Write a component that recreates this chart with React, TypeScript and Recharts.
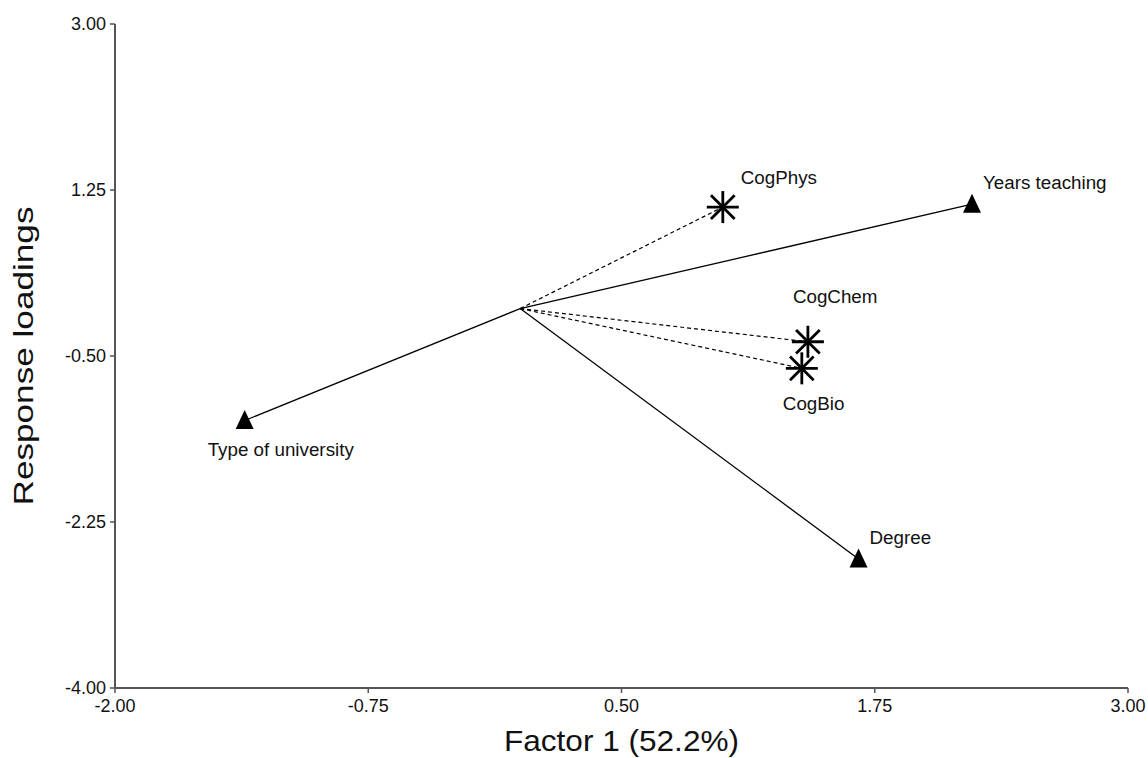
import React from 'react';
import { ScatterChart, Scatter, XAxis, YAxis } from 'recharts';

// Explanatory variables (solid vectors, triangles)
const explanatoryNames = ['Years teaching', 'Type of university', 'Degree'];
const explanatoryX = [2.23, -1.36, 1.67];
const explanatoryY = [1.1, -1.18, -2.64];

// Response variables (dashed vectors, asterisks)
const responseNames = ['CogPhys', 'CogChem', 'CogBio'];
const responseX = [1.0, 1.42, 1.39];
const responseY = [1.07, -0.35, -0.63];

const origin = { x: 0, y: 0 };

const xTicks = [-2, -0.75, 0.5, 1.75, 3];
const yTicks = [3, 1.25, -0.5, -2.25, -4];

const xTitle = 'Factor 1 (52.2%)';
const yTitle = 'Response loadings';

// label placement relative to marker (styling, not data)
const labelOffsets: Record<string, [number, number]> = {
  'Years teaching': [11, -15],
  'Type of university': [-37, 35],
  Degree: [11, -15],
  CogPhys: [18, -23],
  CogChem: [-15, -39],
  CogBio: [-19, 42],
};

const FONT = '"Liberation Sans", Arial, sans-serif';
const LABEL_SIZE = 18.8;

const Triangle = (props: any) => {
  const { cx, cy, payload } = props;
  if (!payload || !payload.name) return <g />;
  const [dx, dy] = labelOffsets[payload.name] || [10, -10];
  const h = 19;
  const w = 18;
  return (
    <g>
      <polygon
        points={`${cx},${cy - h * 0.55} ${cx - w / 2},${cy + h * 0.45} ${cx + w / 2},${cy + h * 0.45}`}
        fill="#000"
      />
      <text x={cx + dx} y={cy + dy} fontSize={LABEL_SIZE} fontFamily={FONT} fill="#111">
        {payload.name}
      </text>
    </g>
  );
};

const Asterisk = (props: any) => {
  const { cx, cy, payload } = props;
  if (!payload || !payload.name) return <g />;
  const [dx, dy] = labelOffsets[payload.name] || [10, -10];
  const r = 16;
  const d = r * 0.74;
  return (
    <g stroke="#000" strokeWidth={2.8}>
      <line x1={cx - r} y1={cy} x2={cx + r} y2={cy} />
      <line x1={cx} y1={cy - r} x2={cx} y2={cy + r} />
      <line x1={cx - d} y1={cy - d} x2={cx + d} y2={cy + d} />
      <line x1={cx - d} y1={cy + d} x2={cx + d} y2={cy - d} />
      <text x={cx + dx} y={cy + dy} fontSize={LABEL_SIZE} fontFamily={FONT} fill="#111" stroke="none">
        {payload.name}
      </text>
    </g>
  );
};

const XTitle = (props: any) => {
  const vb = props.viewBox || {};
  const cx = vb.x + vb.width / 2;
  return (
    <text
      x={cx}
      y={vb.y + 63}
      textAnchor="middle"
      fontSize={30}
      fontFamily={FONT}
      fill="#111"
      textLength={235}
      lengthAdjust="spacingAndGlyphs"
    >
      {xTitle}
    </text>
  );
};

const YTitle = (props: any) => {
  const vb = props.viewBox || {};
  const cy = vb.y + vb.height / 2;
  const x = 33;
  return (
    <text
      x={x}
      y={cy}
      transform={`rotate(-90, ${x}, ${cy})`}
      textAnchor="middle"
      fontSize={28}
      fontFamily={FONT}
      fill="#111"
      textLength={299}
      lengthAdjust="spacingAndGlyphs"
    >
      {yTitle}
    </text>
  );
};

export default function App() {
  const explanatory = explanatoryNames.map((n, i) => ({ name: n, x: explanatoryX[i], y: explanatoryY[i] }));
  const responses = responseNames.map((n, i) => ({ name: n, x: responseX[i], y: responseY[i] }));
  const fmt = (v: number) => v.toFixed(2);
  return (
    <div style={{ position: 'absolute', left: 0, top: 0, width: 1148, height: 758, background: '#fff', fontFamily: FONT }}>
      <ScatterChart width={1148} height={758} margin={{ top: 24, right: 20, left: 0, bottom: 0 }}>
        <XAxis
          type="number"
          dataKey="x"
          domain={[-2, 3]}
          ticks={xTicks}
          tickFormatter={fmt}
          allowDataOverflow
          height={70}
          axisLine={{ stroke: '#555', strokeWidth: 2 }}
          tickLine={{ stroke: '#555', strokeWidth: 1.5 }}
          tickSize={5}
          tickMargin={6}
          tick={{ fontSize: 18, fill: '#111', fontFamily: FONT }}
          label={<XTitle />}
        />
        <YAxis
          type="number"
          dataKey="y"
          domain={[-4, 3]}
          ticks={yTicks}
          tickFormatter={fmt}
          allowDataOverflow
          width={115}
          axisLine={{ stroke: '#555', strokeWidth: 2 }}
          tickLine={{ stroke: '#555', strokeWidth: 1.5 }}
          tickSize={5}
          tickMargin={4}
          tick={{ fontSize: 18, fill: '#111', fontFamily: FONT }}
          label={<YTitle />}
        />
        {explanatory.map((p) => (
          <Scatter
            key={p.name}
            data={[origin, p]}
            line={{ stroke: '#000', strokeWidth: 1.3 }}
            shape={<Triangle />}
            isAnimationActive={false}
          />
        ))}
        {responses.map((p) => (
          <Scatter
            key={p.name}
            data={[origin, p]}
            line={{ stroke: '#000', strokeWidth: 1.2, strokeDasharray: '4 3' }}
            shape={<Asterisk />}
            isAnimationActive={false}
          />
        ))}
      </ScatterChart>
    </div>
  );
}
